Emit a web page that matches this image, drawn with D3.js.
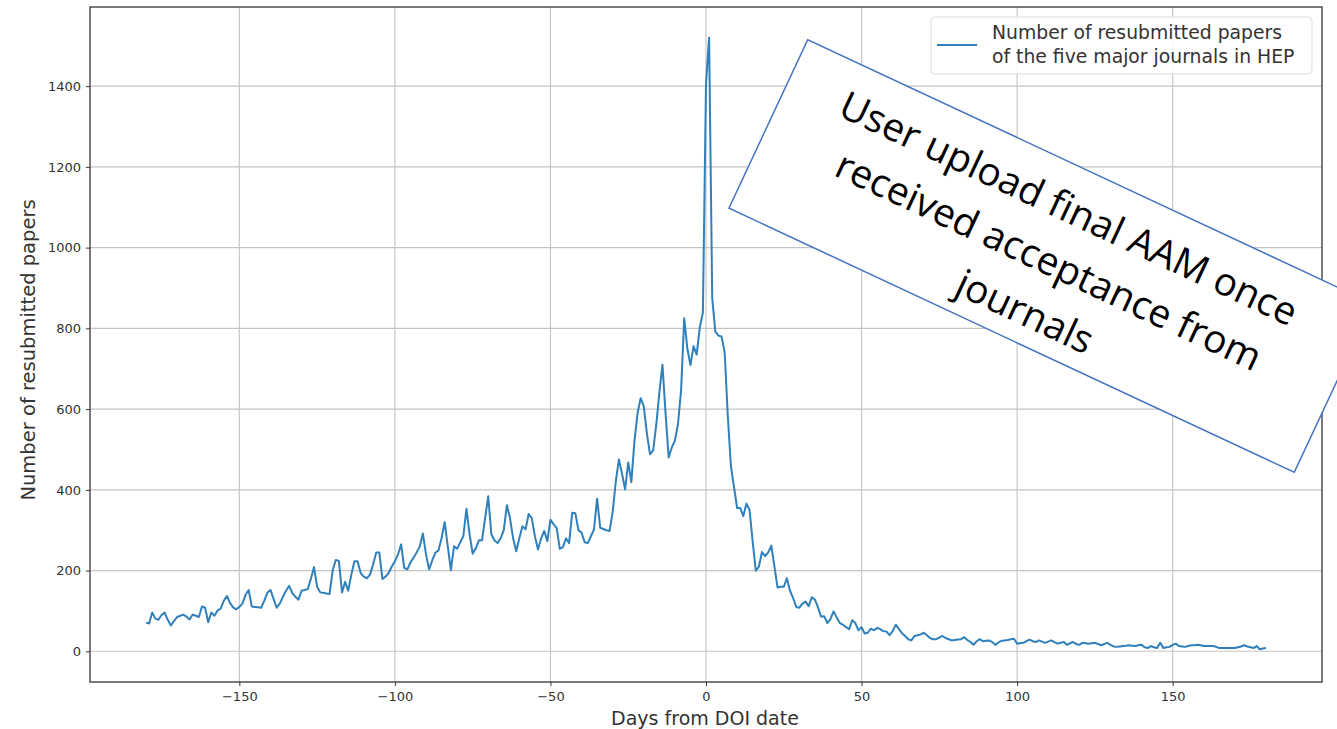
<!DOCTYPE html>
<html>
<head>
<meta charset="utf-8">
<script src="https://d3js.org/d3.v7.min.js"></script>
<style>
  body { margin: 0; background: #ffffff; }
  svg { display: block; }
  .tick text { font-family: "DejaVu Sans", sans-serif; font-size: 13px; fill: #333333; }
</style>
</head>
<body>
<div id="chart"></div>
<script>
// resubmitted papers per day, relative to DOI date (-180 .. 180)
const days = d3.range(-180, 181);
const resubmitted = [
  71, 69, 96, 81, 78, 90, 96, 78, 64, 75,
  85, 88, 91, 86, 79, 91, 88, 85, 111, 108,
  72, 96, 88, 101, 106, 125, 137, 120, 109, 104,
  110, 118, 140, 152, 111, 110, 109, 108, 125, 145,
  152, 130, 108, 118, 135, 150, 162, 145, 135, 128,
  150, 152, 154, 180, 209, 160, 146, 145, 143, 142,
  200, 226, 224, 146, 172, 150, 190, 223, 223, 194,
  185, 181, 190, 215, 245, 245, 179, 185, 194, 210,
  223, 240, 265, 207, 203, 220, 232, 245, 260, 292,
  240, 203, 225, 244, 250, 280, 320, 260, 201, 260,
  254, 270, 285, 353, 290, 242, 255, 275, 275, 330,
  384, 290, 275, 268, 280, 300, 362, 330, 280, 248,
  280, 310, 302, 340, 330, 285, 252, 280, 298, 273,
  326, 315, 306, 254, 258, 280, 268, 343, 342, 300,
  294, 270, 268, 285, 302, 378, 306, 303, 300, 298,
  345, 420, 475, 440, 401, 468, 419, 520, 590, 627,
  607, 540, 488, 498, 560, 640, 710, 590, 480, 505,
  522, 563, 647, 825, 750, 709, 756, 735, 802, 839,
  1405, 1520, 875, 792, 782, 780, 740, 584, 459, 407,
  355, 355, 335, 366, 350, 272, 200, 210, 246, 236,
  245, 262, 210, 158, 160, 160, 181, 150, 132, 110,
  108, 118, 123, 112, 134, 128, 109, 86, 87, 70,
  80, 99, 84, 70, 66, 60, 55, 77, 70, 52,
  60, 44, 46, 56, 52, 58, 55, 50, 49, 40,
  50, 66, 55, 45, 38, 30, 27, 38, 40, 42,
  46, 40, 33, 30, 30, 34, 38, 33, 30, 27,
  28, 29, 30, 35, 28, 23, 16, 25, 30, 25,
  26, 27, 23, 16, 22, 26, 27, 28, 30, 31,
  19, 20, 21, 25, 29, 25, 23, 27, 24, 21,
  24, 27, 23, 19, 21, 23, 16, 20, 23, 18,
  16, 21, 20, 19, 20, 21, 18, 15, 18, 21,
  16, 12, 11, 12, 13, 14, 15, 14, 13, 15,
  16, 10, 8, 13, 10, 8, 21, 8, 10, 11,
  16, 19, 13, 12, 11, 13, 15, 15, 16, 15,
  13, 13, 13, 13, 11, 8, 8, 8, 8, 8,
  8, 10, 12, 15, 12, 10, 8, 13, 5, 7,
  8
];
const xTicks = [-150, -100, -50, 0, 50, 100, 150];
const yTicks = [0, 200, 400, 600, 800, 1000, 1200, 1400];
const seriesName = ["Number of resubmitted papers", "of the five major journals in HEP"];
const noteLines = ["User upload final AAM once", "received acceptance from", "journals"];

const W = 1337, H = 729;
const plotL = 90, plotR = 1322, plotT = 7, plotB = 682;
const lineColor = "#3080bb";

const svg = d3.select("#chart").append("svg")
  .attr("width", W).attr("height", H);

// matplotlib-style 5% margins
const xPad = (d3.max(days) - d3.min(days)) * 0.05;
const yMax = d3.max(resubmitted);
const x = d3.scaleLinear()
  .domain([d3.min(days) - xPad, d3.max(days) + xPad])
  .range([plotL, plotR]);
const y = d3.scaleLinear()
  .domain([-yMax * 0.05, yMax * 1.05])
  .range([plotB, plotT]);

// grid
const grid = svg.append("g").attr("stroke", "#c4c4c4").attr("stroke-width", 1.1);
grid.selectAll(".gx").data(xTicks).enter().append("line")
  .attr("x1", d => x(d)).attr("x2", d => x(d))
  .attr("y1", plotT).attr("y2", plotB);
grid.selectAll(".gy").data(yTicks).enter().append("line")
  .attr("x1", plotL).attr("x2", plotR)
  .attr("y1", d => y(d)).attr("y2", d => y(d));

const fmt = d => (d < 0 ? "\u2212" + Math.abs(d) : String(d));

const xAxis = svg.append("g")
  .attr("transform", `translate(0,${plotB})`)
  .call(d3.axisBottom(x).tickValues(xTicks).tickFormat(fmt).tickSize(4).tickPadding(6));
const yAxis = svg.append("g")
  .attr("transform", `translate(${plotL},0)`)
  .call(d3.axisLeft(y).tickValues(yTicks).tickFormat(fmt).tickSize(4).tickPadding(5));
[xAxis, yAxis].forEach(a => {
  a.select(".domain").remove();
  a.selectAll(".tick line").attr("stroke", "#333333");
});

// line
const line = d3.line()
  .x((d, i) => x(days[i]))
  .y(d => y(d));
svg.append("path")
  .datum(resubmitted)
  .attr("fill", "none")
  .attr("stroke", lineColor)
  .attr("stroke-width", 2)
  .attr("stroke-linejoin", "round")
  .attr("d", line);

// spines
svg.append("rect")
  .attr("x", plotL).attr("y", plotT)
  .attr("width", plotR - plotL).attr("height", plotB - plotT)
  .attr("fill", "none").attr("stroke", "#333333").attr("stroke-width", 1.3);

// axis labels
svg.append("text")
  .attr("x", (plotL + plotR) / 2 - 1).attr("y", 725)
  .attr("text-anchor", "middle")
  .style("font-family", "DejaVu Sans, sans-serif").style("font-size", "19px").style("fill", "#333333")
  .text("Days from DOI date");
svg.append("text")
  .attr("transform", `translate(35,350) rotate(-90)`)
  .attr("text-anchor", "middle")
  .style("font-family", "DejaVu Sans, sans-serif").style("font-size", "19.5px").style("fill", "#333333")
  .text("Number of resubmitted papers");

// legend
const legend = svg.append("g");
legend.append("rect")
  .attr("x", 931).attr("y", 17).attr("width", 381).attr("height", 57)
  .attr("rx", 4)
  .attr("fill", "#ffffff").attr("fill-opacity", 0.85)
  .attr("stroke", "#dddddd").attr("stroke-width", 1);
legend.append("line")
  .attr("x1", 937).attr("x2", 977).attr("y1", 45).attr("y2", 45)
  .attr("stroke", lineColor).attr("stroke-width", 2);
legend.selectAll("text.lg").data(seriesName).enter().append("text")
  .attr("class", "lg")
  .attr("x", 992).attr("y", (d, i) => 39 + i * 24)
  .style("font-family", "DejaVu Sans, sans-serif").style("font-size", "18.8px").style("fill", "#333333")
  .text(d => d);

// annotation box
const note = svg.append("g").attr("transform", "translate(1051,256) rotate(25.05)");
note.append("rect")
  .attr("x", -312).attr("y", -93).attr("width", 624).attr("height", 186)
  .attr("fill", "#ffffff").attr("stroke", "#4472c4").attr("stroke-width", 1.5);
const noteText = note.selectAll("text").data(noteLines).enter().append("text")
  .attr("x", (d, i) => (i === 0 ? -4 : 0)).attr("y", (d, i) => -52 + i * 56)
  .attr("text-anchor", "middle")
  .attr("dominant-baseline", "central")
  .style("font-family", "'Open Sans', Lato, sans-serif")
  .style("font-size", "44px")
  .style("fill", "#000000")
  .text(d => d);
// fit first line to about 500px like the original
const w0 = noteText.nodes()[0].getComputedTextLength();
if (w0 > 0) noteText.style("font-size", (44 * 500 / w0).toFixed(1) + "px");
</script>
</body>
</html>
